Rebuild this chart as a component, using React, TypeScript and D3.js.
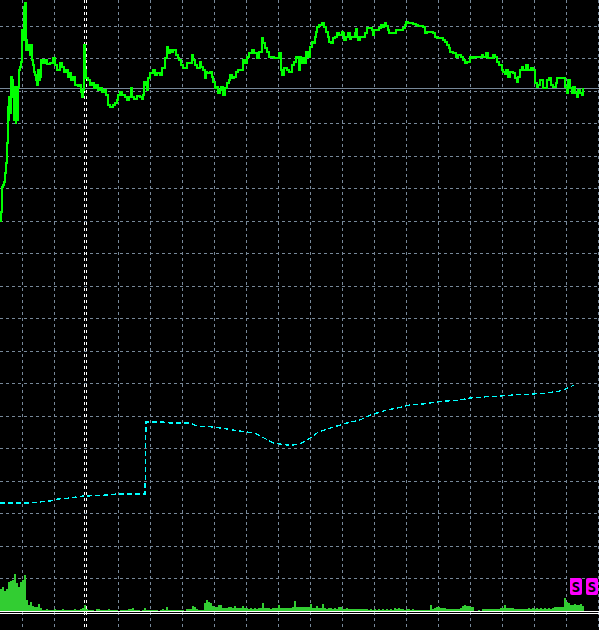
import React from 'react';
import * as d3 from 'd3';

// chart size (matches the terminal window)
const W = 599;
const H = 630;

// close prices, [bar, price]
const closes: [number, number][] = [
  [0, 1000], [1, 1009], [2, 1034], [3, 1036], [4, 1039], [5, 1048], [6, 1058], [6.5, 1064],
  [7, 1078], [7.5, 1094], [8, 1114], [8.5, 1101], [9, 1124], [10, 1108], [11, 1144], [11.5, 1124],
  [12, 1141], [13, 1131], [14, 1101], [15, 1134], [15.5, 1098], [16, 1111], [17, 1101], [17.5, 1124],
  [18, 1134], [19, 1151], [20, 1154], [21, 1159], [22, 1191], [23, 1181], [24, 1214], [25, 1218],
  [25.5, 1171], [26, 1181], [27, 1171], [28, 1176], [29, 1176], [30, 1166], [31, 1176], [32, 1161],
  [33, 1156], [34, 1149], [35, 1146], [36, 1141], [37, 1136], [38, 1151], [39, 1141], [40, 1144],
  [41, 1161], [43, 1158], [45, 1161], [47, 1157], [50, 1158], [53, 1163], [55, 1156], [57, 1151],
  [60, 1158], [62, 1154], [64, 1149], [66, 1151], [68, 1144], [70, 1148], [71, 1141], [73, 1144],
  [75, 1136], [78, 1135], [80, 1136], [81, 1129], [82, 1124], [83, 1131], [84, 1176], [85, 1151],
  [86, 1143], [88, 1141], [90, 1136], [92, 1138], [94, 1133], [96, 1136], [98, 1131], [100, 1133],
  [102, 1129], [104, 1131], [106, 1126], [108, 1116], [110, 1114], [113, 1116], [115, 1118], [117, 1121],
  [118, 1126], [120, 1129], [122, 1126], [125, 1124], [127, 1121], [129, 1124], [131, 1133], [132, 1124],
  [134, 1122], [137, 1125], [140, 1124], [142, 1122], [143, 1126], [144, 1139], [146, 1136], [147, 1131],
  [148, 1143], [150, 1148], [153, 1151], [155, 1146], [157, 1148], [160, 1146], [162, 1153], [165, 1163],
  [167, 1174], [168, 1168], [170, 1171], [172, 1169], [173, 1171], [176, 1166], [178, 1163], [179, 1161],
  [181, 1156], [183, 1153], [185, 1153], [187, 1158], [190, 1158], [192, 1166], [193, 1161], [195, 1156],
  [197, 1153], [200, 1159], [201, 1154], [203, 1151], [205, 1143], [206, 1149], [207, 1148], [210, 1149],
  [212, 1144], [213, 1139], [215, 1133], [217, 1134], [218, 1128], [220, 1131], [221, 1134], [223, 1126],
  [225, 1133], [227, 1138], [229, 1141], [230, 1146], [232, 1143], [234, 1144], [236, 1149], [238, 1151],
  [241, 1151], [243, 1161], [245, 1158], [247, 1164], [249, 1168], [252, 1171], [254, 1168], [257, 1163],
  [259, 1169], [262, 1183], [263, 1178], [265, 1173], [267, 1169], [269, 1164], [272, 1164], [274, 1163],
  [277, 1163], [279, 1168], [281, 1151], [282, 1146], [284, 1153], [287, 1151], [289, 1149], [292, 1156],
  [294, 1159], [296, 1164], [298, 1163], [299, 1151], [300, 1164], [301, 1158], [303, 1163], [305, 1158],
  [306, 1169], [308, 1164], [310, 1174], [312, 1179], [313, 1178], [315, 1184], [316, 1189], [317, 1194],
  [319, 1196], [322, 1198], [324, 1194], [326, 1189], [328, 1184], [329, 1179], [331, 1178], [333, 1183],
  [335, 1184], [337, 1188], [339, 1186], [342, 1189], [343, 1188], [344, 1181], [346, 1184], [348, 1188],
  [350, 1182], [351, 1184], [353, 1184], [355, 1188], [356, 1192], [357, 1184], [358, 1181], [360, 1184],
  [363, 1184], [365, 1188], [367, 1193], [369, 1193], [372, 1191], [373, 1186], [374, 1191], [377, 1191],
  [379, 1193], [381, 1196], [382, 1194], [384, 1196], [385, 1198], [386, 1195], [388, 1191], [389, 1188],
  [391, 1188], [394, 1188], [396, 1191], [398, 1191], [401, 1191], [403, 1193], [405, 1196], [406, 1199],
  [408, 1198], [411, 1198], [413, 1197], [416, 1196], [418, 1195], [421, 1195], [423, 1194], [425, 1188],
  [427, 1189], [430, 1189], [433, 1188], [435, 1184], [437, 1183], [440, 1183], [443, 1181], [445, 1179],
  [447, 1176], [449, 1173], [450, 1169], [453, 1168], [456, 1164], [458, 1166], [461, 1164], [463, 1161],
  [465, 1158], [467, 1159], [470, 1164], [472, 1163], [474, 1164], [477, 1164], [479, 1164], [482, 1166],
  [483, 1164], [486, 1168], [488, 1163], [490, 1163], [493, 1166], [495, 1164], [497, 1159], [499, 1156],
  [502, 1151], [503, 1149], [505, 1147], [506, 1151], [508, 1144], [510, 1149], [513, 1148], [515, 1143],
  [517, 1139], [518, 1144], [520, 1151], [522, 1154], [523, 1151], [526, 1156], [528, 1151], [531, 1153],
  [533, 1151], [535, 1138], [537, 1134], [538, 1136], [540, 1141], [543, 1133], [545, 1133], [547, 1141],
  [549, 1143], [551, 1136], [553, 1134], [556, 1138], [557, 1143], [560, 1143], [563, 1143], [565, 1134],
  [567, 1128], [568, 1141], [570, 1133], [572, 1128], [573, 1134], [575, 1128], [577, 1124], [578, 1131],
  [580, 1128], [582, 1126], [583, 1133],
];

// indicator line (dashed aqua), [bar, value]
const indicator: [number, number][] = [
  [0, 718], [27, 718], [40, 719], [50, 720], [58, 722], [70, 723], [83, 725], [87, 725],
  [107, 726], [117, 727], [145, 727], [146, 799], [163, 799], [170, 798], [190, 798], [197, 795],
  [213, 794], [220, 793], [233, 791], [247, 789], [255, 788], [262, 784], [268, 781], [273, 778],
  [287, 776], [293, 776], [298, 777], [302, 778], [310, 783], [317, 788], [327, 792], [337, 795],
  [347, 798], [360, 801], [368, 805], [377, 808], [387, 811], [397, 813], [410, 816], [423, 817],
  [437, 819], [447, 820], [460, 821], [470, 823], [483, 824], [500, 825], [513, 826], [533, 827],
  [547, 828], [560, 830], [568, 833], [574, 836],
];

// tick volumes, one value per 2 bars
const volumes: number[] = [
  22, 24, 20, 22, 29, 30, 31, 37, 28, 24, 29, 31, 36, 11, 6, 9, 5, 4, 4, 7,
  3, 1, 1, 2, 1, 1, 1, 2, 1, 1, 1, 2, 1, 1, 1, 1, 1, 2, 1, 1,
  2, 3, 6, 2, 1, 1, 1, 0, 2, 2, 1, 1, 1, 1, 2, 1, 1, 1, 1, 0,
  1, 1, 1, 1, 2, 2, 3, 1, 1, 1, 0, 1, 3, 1, 1, 1, 1, 1, 1, 0,
  1, 2, 1, 4, 1, 1, 1, 1, 1, 1, 1, 1, 0, 2, 2, 2, 5, 4, 2, 1,
  1, 1, 8, 11, 9, 8, 5, 4, 4, 6, 6, 3, 3, 3, 4, 4, 3, 5, 3, 3,
  3, 5, 3, 3, 2, 3, 2, 3, 2, 3, 3, 8, 3, 3, 3, 2, 3, 3, 3, 6,
  3, 3, 3, 3, 3, 3, 4, 10, 4, 4, 4, 4, 4, 4, 4, 7, 3, 3, 5, 3,
  3, 7, 3, 2, 3, 3, 2, 3, 2, 4, 4, 2, 2, 3, 2, 2, 2, 2, 2, 2,
  2, 2, 2, 2, 1, 2, 1, 2, 1, 2, 1, 2, 1, 2, 1, 2, 1, 3, 2, 3,
  2, 2, 1, 2, 2, 1, 2, 1, 1, 1, 1, 1, 1, 1, 1, 6, 2, 3, 4, 4,
  3, 3, 3, 2, 2, 2, 2, 2, 2, 2, 3, 5, 6, 5, 5, 4, 4, 0, 0, 1,
  0, 2, 2, 2, 2, 2, 2, 2, 2, 2, 3, 3, 6, 3, 3, 3, 3, 2, 2, 2,
  2, 2, 2, 2, 3, 2, 3, 2, 3, 2, 3, 2, 3, 2, 3, 2, 3, 4, 4, 4,
  4, 4, 13, 9, 8, 6, 6, 7, 6, 6, 7, 5,
];

const bidPrice = 1132.5;
const separatorBars = [84, 86];
const labelBars = [570, 586];

const App: React.FC = () => {
  const x = d3.scaleLinear().domain([0, W]).range([0, W]);
  const y = d3.scaleLinear().domain([591, 1221]).range([H, 0]);
  const yVol = d3.scaleLinear().domain([0, 40]).range([611, 571]);

  const mainBottom = 611;

  // grid: every 32 bars, price grid every 32.47 points
  const xGrid = d3.range(22, W + 1, 32);
  const yGrid = d3.range(0, 18).map((k) => 1195 - k * 32.47);

  const line = d3
    .line<[number, number]>()
    .x((d) => x(d[0]))
    .y((d) => y(d[1]));

  const stepLine = d3
    .line<[number, number]>()
    .curve(d3.curveStepAfter)
    .x((d) => x(d[0]))
    .y((d) => y(d[1]));

  const px = (v: number) => Math.round(v) + 0.5;

  return (
    <svg
      width={W}
      height={H}
      style={{ position: 'absolute', left: 0, top: 0, display: 'block', background: '#000' }}
    >
      <rect width={W} height={H} fill="#000" />

      {/* grid */}
      <g stroke="#778899" strokeWidth={1} strokeDasharray="3,3" shapeRendering="crispEdges">
        {yGrid.map((p, i) => (
          <line key={'h' + i} x1={0} x2={W} y1={px(y(p))} y2={px(y(p))} />
        ))}
        {xGrid.map((b, i) => (
          <line key={'v' + i} x1={px(x(b))} x2={px(x(b))} y1={0} y2={H} />
        ))}
      </g>

      {/* period separators */}
      <g stroke="#ffffff" strokeWidth={1} strokeDasharray="3,3" shapeRendering="crispEdges">
        {separatorBars.map((b) => (
          <line key={b} x1={px(x(b))} x2={px(x(b))} y1={0} y2={H} />
        ))}
      </g>

      {/* volumes */}
      <g fill="#32cd32" shapeRendering="crispEdges">
        {volumes.map((v, i) => (
          <rect
            key={i}
            x={x(i * 2)}
            width={x(2) - x(0)}
            y={yVol(v)}
            height={mainBottom - yVol(v)}
          />
        ))}
      </g>

      {/* bid line */}
      <line
        x1={0}
        x2={W}
        y1={px(y(bidPrice))}
        y2={px(y(bidPrice))}
        stroke="#778899"
        strokeWidth={1}
        shapeRendering="crispEdges"
      />

      {/* indicator */}
      <path
        d={line(indicator) ?? ''}
        fill="none"
        stroke="#00ffff"
        strokeWidth={1.3}
        strokeDasharray="5,3"
        shapeRendering="crispEdges"
      />

      {/* price */}
      <path
        d={stepLine(closes) ?? ''}
        fill="none"
        stroke="#00ff00"
        strokeWidth={2}
        shapeRendering="crispEdges"
      />

      {/* subwindow border */}
      <g stroke="#ffffff" strokeWidth={1} shapeRendering="crispEdges">
        <line x1={0} x2={W} y1={611.5} y2={611.5} />
        <line x1={0} x2={W} y1={613.5} y2={613.5} />
      </g>

      {/* label objects */}
      {labelBars.map((b) => (
        <g key={b} transform={`translate(${x(b)},578)`}>
          <rect width={12} height={17} rx={2} fill="#ff00ff" />
          <text
            x={6}
            y={13.5}
            textAnchor="middle"
            fontFamily="DejaVu Sans Mono"
            fontWeight="bold"
            fontSize={14}
            fill="#000"
          >
            S
          </text>
        </g>
      ))}
    </svg>
  );
};

export default App;
